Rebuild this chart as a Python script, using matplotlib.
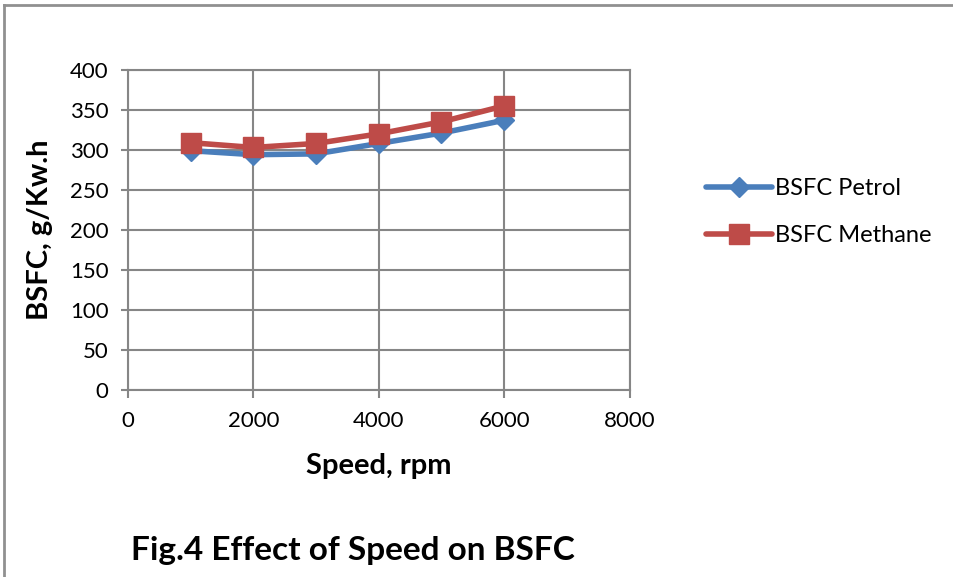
import matplotlib.pyplot as plt
from matplotlib.lines import Line2D

speed = [1000, 2000, 3000, 4000, 5000, 6000]
bsfc_petrol = [299, 294, 295, 308, 321, 337]
bsfc_methane = [309, 303, 308, 320, 335, 355]

x_ticks = [0, 2000, 4000, 6000, 8000]
y_ticks = [0, 50, 100, 150, 200, 250, 300, 350, 400]

plt.rcParams['font.family'] = ['Lato', 'DejaVu Sans']

fig = plt.figure(figsize=(9.54, 5.77), dpi=100)
ax = fig.add_axes([0.134, 0.324, 0.526, 0.555])

ax.plot(speed, bsfc_petrol, color='#4a7ebb', lw=4, marker='D', ms=10,
        label='BSFC Petrol', solid_capstyle='round')
ax.plot(speed, bsfc_methane, color='#be4b48', lw=4, marker='s', ms=14,
        label='BSFC Methane', solid_capstyle='round')

ax.set_xlim(0, 8000)
ax.set_ylim(0, 400)
ax.set_xticks(x_ticks)
ax.set_yticks(y_ticks)
ax.grid(True, color='#868686', lw=1.5)
ax.set_axisbelow(True)
for s in ax.spines.values():
    s.set_color('#868686')
    s.set_linewidth(1.5)
ax.tick_params(colors='#868686', labelcolor='black', labelsize=16, width=1.5)
ax.tick_params(axis='x', length=6, pad=9)
ax.tick_params(axis='y', length=5, pad=9)

ax.set_xlabel('Speed, rpm', fontsize=21, fontweight='bold', labelpad=16)
ax.set_ylabel('BSFC, g/Kw.h', fontsize=21, fontweight='bold', labelpad=12)

ax.legend(loc='center left', bbox_to_anchor=(1.11, 0.555), frameon=False,
          fontsize=17, handlelength=2.8, labelspacing=1.1, handletextpad=0.1)

fig.text(0.137, 0.03, 'Fig.4 Effect of Speed on BSFC', fontsize=24, fontweight='bold')

# outer frame (top and left edges)
fig.add_artist(Line2D([0.004, 1.0], [0.992, 0.992], color='#909090', lw=2))
fig.add_artist(Line2D([0.004, 0.004], [0.0, 0.992], color='#909090', lw=2))

fig.savefig('out.png', dpi=100)
